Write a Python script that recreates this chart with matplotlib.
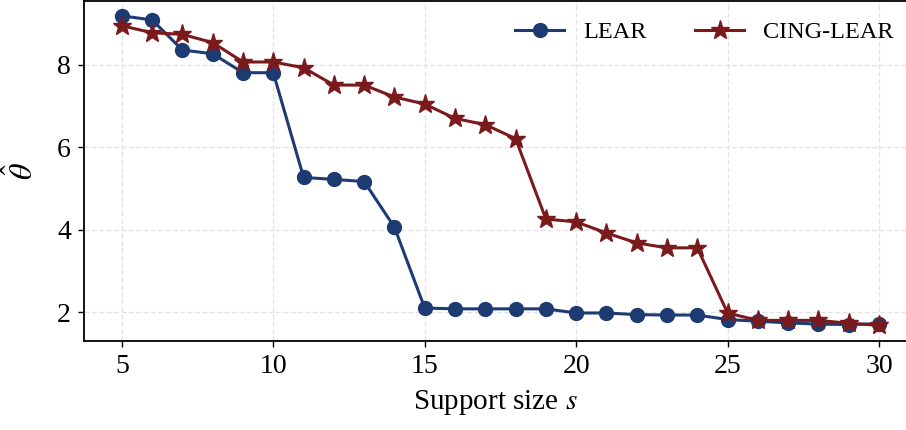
import matplotlib
matplotlib.use("Agg")
import matplotlib.pyplot as plt

# support sizes and estimated theta for both methods
support = list(range(5, 31))
lear = [9.19, 9.09, 8.36, 8.27, 7.81, 7.81, 5.27, 5.22, 5.17, 4.06,
        2.10, 2.08, 2.08, 2.08, 2.08, 1.98, 1.98, 1.94, 1.93, 1.93,
        1.82, 1.78, 1.74, 1.71, 1.70, 1.72]
cing_lear = [8.95, 8.78, 8.74, 8.54, 8.07, 8.07, 7.93, 7.51, 7.51, 7.22,
             7.05, 6.70, 6.55, 6.21, 4.26, 4.19, 3.92, 3.68, 3.56, 3.56,
             1.98, 1.80, 1.80, 1.80, 1.73, 1.68]
xticks = [5, 10, 15, 20, 25, 30]
yticks = [2, 4, 6, 8]

plt.rcParams['font.family'] = ['Liberation Serif', 'DejaVu Serif']
plt.rcParams['mathtext.fontset'] = 'stix'

fig = plt.figure(figsize=(9.06, 4.30), dpi=100)
ax = fig.add_axes([84 / 906, 1 - 341 / 430, 1 - 84 / 906, 340 / 430])

blue = '#1d3b72'
red = '#7b1a1c'
ax.plot(support, lear, color=blue, lw=2.2, marker='o', ms=10, label='LEAR', zorder=3)
ax.plot(support, cing_lear, color=red, lw=2.2, marker='*', ms=14, label='CING-LEAR', zorder=4)

ax.set_xlim(3.75, 30.89)
ax.set_ylim(1.30, 9.55)
ax.set_xticks(xticks)
ax.set_yticks(yticks)
ax.tick_params(labelsize=20, direction='out', length=4.5, width=1, pad=5)
ax.grid(True, ls='--', color='#e3e3e3', lw=1)
ax.set_axisbelow(True)
for side in ['left', 'bottom', 'top']:
    ax.spines[side].set_linewidth(1.3)
ax.spines['right'].set_visible(False)

ax.set_xlabel(r'Support size $s$', fontsize=21, labelpad=6)
ax.set_ylabel(r'$\hat{\theta}$', fontsize=23, labelpad=12)

ax.legend(loc='upper right', ncol=2, frameon=False, fontsize=17.5,
          handlelength=2.0, columnspacing=2.0, bbox_to_anchor=(1.012, 1.005))

fig.savefig('out.png', dpi=100)
